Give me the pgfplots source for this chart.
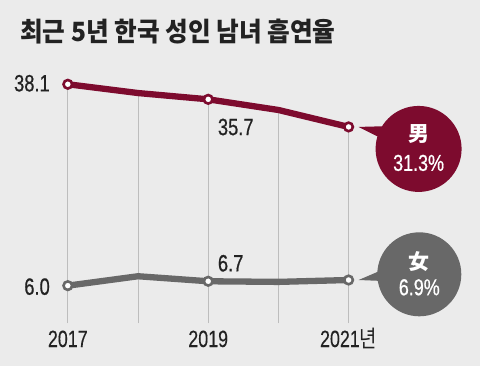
\documentclass[border=0pt]{standalone}
\usepackage{pgfplots}
\pgfplotsset{compat=1.18}
\usepackage{fontspec}
\setmainfont{Liberation Sans}[FakeStretch=0.78, FakeBold=0.6]
\newfontfamily\tickfont{Liberation Sans}[FakeStretch=0.76, FakeBold=0.2]
\newfontfamily\kr{Noto Sans CJK KR}
\newfontfamily\krt{Noto Sans CJK KR}[FakeStretch=0.93]
\newfontfamily\krn{Noto Sans CJK KR}[FakeStretch=0.8]
\definecolor{bg}{HTML}{EBEBEB}
\definecolor{maroon}{HTML}{7D0B2E}
\definecolor{dgray}{HTML}{686868}
\definecolor{gridc}{HTML}{BDBDBD}
\definecolor{txt}{HTML}{222222}
\begin{document}
\begin{tikzpicture}
\fill[bg] (0,-42.7bp) rectangle (480bp,323.3bp);
\node[anchor=west, inner sep=0, text=txt] at (20bp,291.8bp) {\krt\bfseries\fontsize{26.5bp}{30bp}\selectfont 최근 5년 한국 성인 남녀 흡연율};
\begin{axis}[at={(0,0)}, anchor=south west, scale only axis, width=480bp, height=250.96bp,
 xmin=2016.034, xmax=2022.872, ymin=0, ymax=40, clip=false,
 axis line style={draw=none}, ytick=\empty, xtick={2017,2019,2021},
 xticklabels={2017,2019,{2021{\krn 년}}},
 major tick length=0pt,
 xticklabel style={anchor=base, yshift=-23.7bp, font=\tickfont\fontsize{23.5bp}{26bp}\selectfont, text=txt, inner sep=0},
 every node/.append style={inner sep=0},
]
% grid lines
\addplot[gridc, line width=1bp] coordinates {(2017,0) (2017,38.1)};
\addplot[gridc, line width=1bp] coordinates {(2018,0) (2018,36.7)};
\addplot[gridc, line width=1bp] coordinates {(2019,0) (2019,35.7)};
\addplot[gridc, line width=1bp] coordinates {(2020,0) (2020,34.0)};
\addplot[gridc, line width=1bp] coordinates {(2021,0) (2021,31.3)};
% male
\addplot[maroon, line width=6.3bp, line join=round] coordinates {(2017,38.1) (2018,36.7) (2019,35.7) (2020,34.0) (2021,31.3)};
\addplot[maroon, line width=2.6bp, only marks, mark=*, mark size=4.3pt, mark options={fill=white}] coordinates {(2017,38.1) (2019,35.7) (2021,31.3)};
% female
\addplot[dgray, line width=6.3bp, line join=round] coordinates {(2017,6.0) (2018,7.5) (2019,6.7) (2020,6.6) (2021,6.9)};
\addplot[dgray, line width=2.6bp, only marks, mark=*, mark size=4.3pt, mark options={fill=white}] coordinates {(2017,6.0) (2019,6.7) (2021,6.9)};
% value labels
\node[anchor=east, text=txt, font=\fontsize{23.5bp}{26bp}\selectfont] at ([shift={(-14.5bp,1bp)}]axis cs:2017,38.1) {38.1};
\node[anchor=west, text=txt, font=\fontsize{23.5bp}{26bp}\selectfont] at ([shift={(6.2bp,-27.7bp)}]axis cs:2019,35.7) {35.7};
\node[anchor=east, text=txt, font=\fontsize{23.5bp}{26bp}\selectfont] at ([shift={(-14.5bp,-1bp)}]axis cs:2017,6.0) {6.0};
\node[anchor=west, text=txt, font=\fontsize{23.5bp}{26bp}\selectfont] at ([shift={(6.2bp,18bp)}]axis cs:2019,6.7) {6.7};
% male bubble
\fill[maroon] ([shift={(70bp,-22bp)}]axis cs:2021,31.3) circle[radius=43bp];
\fill[maroon] ([shift={(10bp,0bp)}]axis cs:2021,31.3) -- ([shift={(36bp,0.7bp)}]axis cs:2021,31.3) -- ([shift={(44bp,-17bp)}]axis cs:2021,31.3) -- cycle;
\node[text=white, font=\kr\bfseries\fontsize{21bp}{24bp}\selectfont] at ([shift={(70bp,-7bp)}]axis cs:2021,31.3) {男};
\node[text=white, font=\fontsize{23bp}{26bp}\selectfont] at ([shift={(70bp,-36bp)}]axis cs:2021,31.3) {31.3\%};
% female bubble
\fill[dgray] ([shift={(70.7bp,5.7bp)}]axis cs:2021,6.9) circle[radius=42bp];
\fill[dgray] ([shift={(10bp,0bp)}]axis cs:2021,6.9) -- ([shift={(35bp,10.7bp)}]axis cs:2021,6.9) -- ([shift={(42bp,-1.3bp)}]axis cs:2021,6.9) -- cycle;
\node[text=white, font=\kr\bfseries\fontsize{21bp}{24bp}\selectfont] at ([shift={(70.7bp,18.7bp)}]axis cs:2021,6.9) {女};
\node[text=white, font=\fontsize{23bp}{26bp}\selectfont] at ([shift={(70.7bp,-7.3bp)}]axis cs:2021,6.9) {6.9\%};
\end{axis}
\end{tikzpicture}
\end{document}
